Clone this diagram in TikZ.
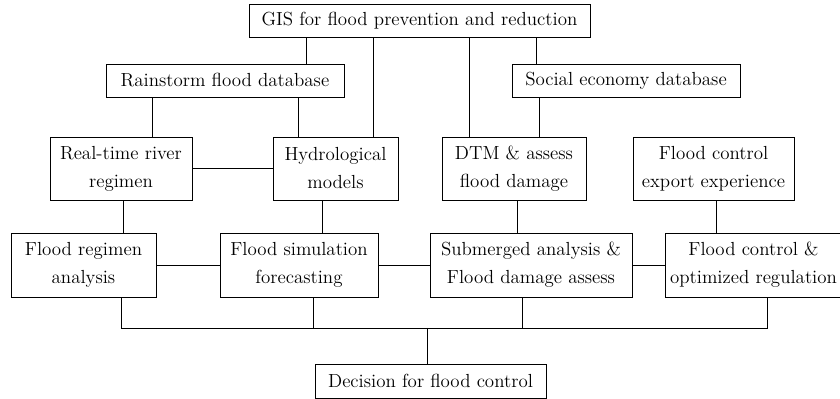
\documentclass[tikz,border=0pt]{standalone}
\usepackage{fontspec}
\usetikzlibrary{positioning}

\begin{document}
\begin{tikzpicture}[
    x=0.75pt, y=-0.75pt,
    every node/.style = {draw=black, line width=0.6pt, inner sep=0pt, align=center,
                         font=\fontsize{14.2}{21}\selectfont},
    line/.style = {line width=0.6pt}
]
\useasboundingbox (0,0) rectangle (840,399);

% top level
\node[minimum width=341*0.75pt, minimum height=33*0.75pt] (gis) at (419.5,20.5) {GIS for flood prevention and reduction};

% databases
\node[minimum width=238*0.75pt, minimum height=33*0.75pt] (rain)   at (225,80.5) {Rainstorm flood database};
\node[minimum width=228*0.75pt, minimum height=33*0.75pt] (social) at (626,80.5) {Social economy database};

% third row
\node[minimum width=142*0.75pt, minimum height=63*0.75pt] (real)   at (121,168.5)   {Real-time river\\regimen};
\node[minimum width=125*0.75pt, minimum height=63*0.75pt] (hydro)  at (335.5,168.5) {Hydrological\\models};
\node[minimum width=144*0.75pt, minimum height=63*0.75pt] (dtm)    at (514,168.5)   {DTM \& assess\\flood damage};
\node[minimum width=161*0.75pt, minimum height=63*0.75pt] (export) at (713.5,168.5) {Flood control\\export experience};

% fourth row
\node[minimum width=145*0.75pt, minimum height=64*0.75pt] (regimen) at (83.5,265)  {Flood regimen\\analysis};
\node[minimum width=158*0.75pt, minimum height=64*0.75pt] (sim)     at (299,265)   {Flood simulation\\forecasting};
\node[minimum width=202*0.75pt, minimum height=64*0.75pt] (sub)     at (531,265)   {Submerged analysis \&\\Flood damage assess};
\node[minimum width=177*0.75pt, minimum height=64*0.75pt] (ctrl)    at (753.5,265) {Flood control \&\\optimized regulation};

% decision
\node[minimum width=231*0.75pt, minimum height=34*0.75pt] (decision) at (430.5,381) {Decision for flood control};

% vertical links
\foreach \a/\b/\x in {gis/rain/306, gis/hydro/373, gis/dtm/469, gis/social/536,
                      rain/real/152, rain/hydro/298, social/dtm/539,
                      real/regimen/123, hydro/sim/322, dtm/sub/517, export/ctrl/716}
    \draw[line] (\a.south -| \x,0) -- (\b.north -| \x,0);

% horizontal links
\draw[line] (real.east) -- (hydro.west);
\draw[line] (regimen.east) -- (sim.west);
\draw[line] (sim.east) -- (sub.west);
\draw[line] (sub.east) -- (ctrl.west);

% bus to decision
\coordinate (busL) at (121,328);
\coordinate (busR) at (767,328);
\draw[line] (regimen.south -| busL) -- (busL) -- (busR) -- (ctrl.south -| busR);
\draw[line] (sim.south -| 313,0) -- (313,328);
\draw[line] (sub.south -| 522,0) -- (522,328);
\draw[line] (427,328) -- (decision.north -| 427,0);

\end{tikzpicture}
\end{document}
